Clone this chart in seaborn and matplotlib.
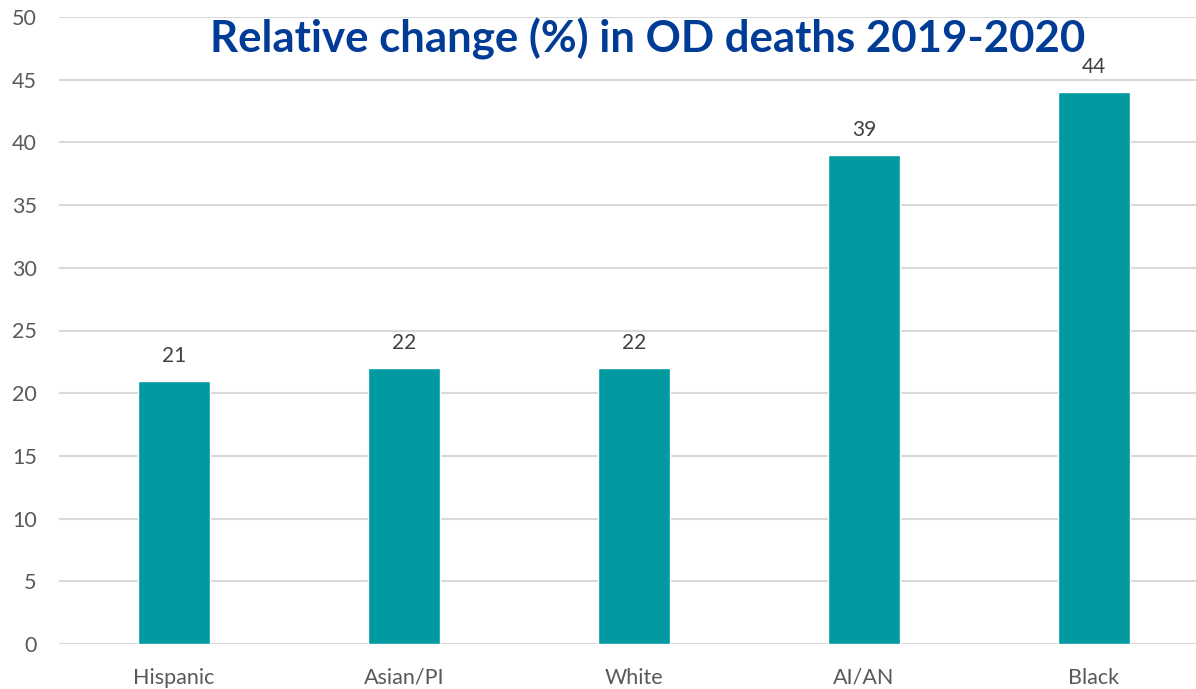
import matplotlib
matplotlib.use("Agg")
import matplotlib.pyplot as plt
import seaborn as sns
import pandas as pd

groups = ["Hispanic", "Asian/PI", "White", "AI/AN", "Black"]
change_pct = [21, 22, 22, 39, 44]
y_ticks = [0, 5, 10, 15, 20, 25, 30, 35, 40, 45, 50]
title_text = "Relative change (%) in OD deaths 2019-2020"

sns.set_theme(style="white")
plt.rcParams["font.family"] = ["Lato", "DejaVu Sans"]

df = pd.DataFrame({"group": groups, "change": change_pct})

fig = plt.figure(figsize=(11.96, 6.89), dpi=100)
ax = fig.add_axes([59 / 1196, 45 / 689, 1137 / 1196, 627 / 689])

sns.barplot(data=df, x="group", y="change", color="#009AA0", width=0.313,
            saturation=1, ax=ax, zorder=3)

ax.set_xlim(-0.5, -0.5 + 1137 / 230)
ax.set_ylim(0, 50)
ax.set_yticks(y_ticks)
ax.yaxis.grid(True, color="#D9D9D9", linewidth=1.5, zorder=0)
ax.set_axisbelow(True)
for s in ax.spines.values():
    s.set_visible(False)
ax.set_xlabel("")
ax.set_ylabel("")
ax.tick_params(axis="both", length=0, labelsize=15.5, labelcolor="#595959")
ax.tick_params(axis="y", pad=16)
ax.tick_params(axis="x", pad=17)

for i, v in enumerate(change_pct):
    ax.annotate(f"{v}", xy=(i, v), xytext=(0, 18), textcoords="offset points",
                ha="center", va="center", fontsize=15, color="#404040")

fig.text(648 / 1196, 1 - 39 / 689, title_text, ha="center", va="center",
         fontsize=31.5, fontweight="bold", color="#003C96")

fig.savefig("out.png", dpi=100)
